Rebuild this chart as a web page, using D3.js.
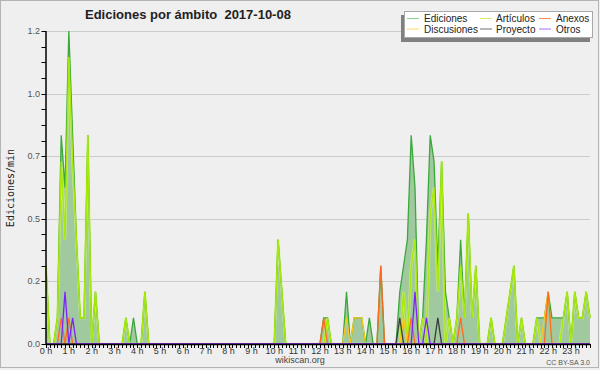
<!DOCTYPE html>
<html><head><meta charset="utf-8">
<script src="https://cdn.jsdelivr.net/npm/d3@7"></script>
<style>body{margin:0;background:#efefef}svg{display:block}</style>
</head><body><svg id="c" width="600" height="370"></svg>
<script>
const titleText = "Ediciones por ámbito  2017-10-08";
const hourLabels = ["0 h","1 h","2 h","3 h","4 h","5 h","6 h","7 h","8 h","9 h","10 h","11 h",
  "12 h","13 h","14 h","15 h","16 h","17 h","18 h","19 h","20 h","21 h","22 h","23 h"];
const yTickValues = [0, 0.24, 0.48, 0.72, 0.96, 1.2];
const legendLabels = ["Ediciones","Artículos","Anexos","Discusiones","Proyecto","Otros"];

// edits per minute, 10-minute bins (144 bins, 12 per row = 2 hours)
const ediciones = [
 0.3,0,0,0.1,0.8,0.6,1.2,0.8,0.4,0.1,0.1,0.8,
 0,0.2,0,0,0,0,0,0,0,0.1,0,0.1,
 0,0,0.2,0,0,0,0,0,0,0,0,0,
 0,0,0,0,0,0,0,0,0,0,0,0,
 0,0,0,0,0,0,0,0,0,0,0,0,
 0,0.4,0.2,0,0,0,0,0,0,0,0,0,
 0,0.1,0.1,0,0,0,0,0.2,0,0.1,0.1,0.1,
 0,0.1,0,0,0.3,0,0,0,0,0.2,0.3,0.4,
 0.8,0.6,0,0.1,0.4,0.8,0.7,0.3,0.7,0.2,0.1,0,
 0.1,0.4,0.1,0.5,0.1,0.3,0,0,0,0.1,0,0,
 0,0.1,0.2,0.3,0,0.1,0,0,0,0.1,0.1,0.1,
 0.2,0.1,0.1,0.1,0.1,0.2,0,0.2,0.1,0.1,0.2,0.1];
const articulos = [
 0.3,0,0,0.1,0.7,0.4,1.1,0.7,0.4,0.1,0.1,0.8,
 0,0.2,0,0,0,0,0,0,0,0.1,0,0,
 0,0,0.2,0,0,0,0,0,0,0,0,0,
 0,0,0,0,0,0,0,0,0,0,0,0,
 0,0,0,0,0,0,0,0,0,0,0,0,
 0,0.4,0.2,0,0,0,0,0,0,0,0,0,
 0,0,0.1,0,0,0,0,0,0,0,0,0,
 0,0,0,0,0,0,0,0,0,0,0.2,0,
 0.3,0.4,0,0.1,0,0.5,0.6,0.2,0.7,0,0.1,0,
 0.1,0.3,0.1,0.5,0.1,0.3,0,0,0,0.1,0,0,
 0,0.1,0.2,0.3,0,0.1,0,0,0,0.1,0,0,
 0,0,0,0,0.1,0.2,0,0.2,0.1,0.1,0.2,0.1];
const anexos = [
 0,0,0,0,0.1,0,0.1,0,0,0,0,0,
 0,0,0,0,0,0,0,0,0,0,0,0,
 0,0,0,0,0,0,0,0,0,0,0,0,
 0,0,0,0,0,0,0,0,0,0,0,0,
 0,0,0,0,0,0,0,0,0,0,0,0,
 0,0,0,0,0,0,0,0,0,0,0,0,
 0,0.1,0,0,0,0,0,0,0,0,0,0,
 0,0,0,0,0.3,0,0,0,0,0,0,0,
 0.1,0,0,0,0,0,0,0,0,0,0,0,
 0,0.1,0,0,0,0,0,0,0,0,0,0,
 0,0,0,0,0,0,0,0,0,0,0,0,
 0.2,0,0,0,0,0,0,0,0,0,0,0];
const discusiones = [
 0,0,0,0,0,0,0,0,0,0,0,0,
 0,0,0,0,0,0,0,0,0,0,0,0,
 0,0,0,0,0,0,0,0,0,0,0,0,
 0,0,0,0,0,0,0,0,0,0,0,0,
 0,0,0,0,0,0,0,0,0,0,0,0,
 0,0,0,0,0,0,0,0,0,0,0,0,
 0,0,0,0,0,0,0,0.1,0,0.1,0.1,0.1,
 0,0,0,0,0,0,0,0,0,0,0.1,0,
 0,0,0,0,0,0,0,0,0,0,0,0,
 0,0,0,0,0,0,0,0,0,0,0,0,
 0,0,0,0,0,0,0,0,0,0,0,0.1,
 0.2,0,0,0,0,0,0,0,0,0,0,0];
const proyecto = [
 0,0,0,0,0,0,0,0,0,0,0,0,
 0,0,0,0,0,0,0,0,0,0,0,0,
 0,0,0,0,0,0,0,0,0,0,0,0,
 0,0,0,0,0,0,0,0,0,0,0,0,
 0,0,0,0,0,0,0,0,0,0,0,0,
 0,0,0,0,0,0,0,0,0,0,0,0,
 0,0,0,0,0,0,0,0,0,0,0,0,
 0,0,0,0,0,0,0,0,0,0.1,0,0,
 0,0,0,0,0,0,0,0.1,0,0,0,0,
 0,0,0,0,0,0,0,0,0,0,0,0,
 0,0,0,0,0,0,0,0,0,0,0,0,
 0,0,0,0,0,0,0,0,0,0,0,0];
const otros = [
 0,0,0,0,0,0.2,0,0.1,0,0,0,0,
 0,0,0,0,0,0,0,0,0,0,0,0,
 0,0,0,0,0,0,0,0,0,0,0,0,
 0,0,0,0,0,0,0,0,0,0,0,0,
 0,0,0,0,0,0,0,0,0,0,0,0,
 0,0,0,0,0,0,0,0,0,0,0,0,
 0,0,0,0,0,0,0,0,0,0,0,0,
 0,0,0,0,0,0,0,0,0,0,0,0,
 0,0.2,0,0,0.1,0,0,0,0,0,0,0,
 0,0,0,0,0,0,0,0,0,0,0,0,
 0,0,0,0,0,0,0,0,0,0,0,0,
 0,0,0,0,0,0,0,0,0,0,0,0];

const colors = {Ediciones:"#3aa83a", "Artículos":"#a8e80a", Anexos:"#ff6a1f",
  Discusiones:"#ffc61a", Proyecto:"#3c3c3c", Otros:"#7d22ff"};
const legendColors = {Ediciones:"#8fd08f", "Artículos":"#d0f060", Anexos:"#ff8a5a",
  Discusiones:"#ffd860", Proyecto:"#707070", Otros:"#a070ff"};
const seriesList = [
  {name:"Ediciones", data:ediciones},
  {name:"Artículos", data:articulos},
  {name:"Discusiones", data:discusiones},
  {name:"Anexos", data:anexos},
  {name:"Proyecto", data:proyecto},
  {name:"Otros", data:otros}];

const svg = d3.select("#c");
const FONT = "'Liberation Sans', Arial, sans-serif";
svg.append("rect").attr("x",0.5).attr("y",0.5).attr("width",598).attr("height",367)
  .attr("fill","#efefef").attr("stroke","#b4b4b4");

const x = d3.scaleLinear().domain([0,143]).range([46,590]);
const y = d3.scaleLinear().domain([0,1.2]).range([344,31]);

// grid
svg.append("g").selectAll("line").data(yTickValues.filter(v=>v>0)).join("line")
  .attr("x1",46).attr("x2",590).attr("y1",d=>Math.round(y(d))+0.5).attr("y2",d=>Math.round(y(d))+0.5)
  .attr("stroke","#cccccc").attr("stroke-width",1);

// area + lines
const area = d3.area().x((d,i)=>x(i)).y0(y(0)).y1(d=>y(d));
const line = d3.line().x((d,i)=>x(i)).y(d=>y(d));
svg.append("path").datum(ediciones).attr("d",area).attr("fill","#a0c9a0");
// soft halo under the article line
svg.append("path").datum(articulos).attr("d",line).attr("fill","none")
  .attr("stroke","#d8f590").attr("stroke-width",2.6).attr("opacity",0.7);
seriesList.forEach(s=>{
  svg.append("path").datum(s.data).attr("d",line).attr("fill","none")
    .attr("stroke",colors[s.name]).attr("stroke-width", s.name==="Artículos"?1.5:1.3)
    .attr("stroke-linejoin","miter");
});

// axes
const ax = svg.append("g");
ax.append("line").attr("x1",46).attr("x2",590).attr("y1",344.5).attr("y2",344.5).attr("stroke","#000").attr("stroke-width",1.5);
ax.append("line").attr("x1",46).attr("x2",46).attr("y1",31).attr("y2",345).attr("stroke","#000").attr("stroke-width",1.5);
ax.selectAll(".xt").data(d3.range(0,144)).join("line").attr("class","xt")
  .attr("x1",d=>Math.round(x(d))+0.5).attr("x2",d=>Math.round(x(d))+0.5)
  .attr("y1",344).attr("y2",348).attr("stroke","#000");
ax.selectAll(".xl").data(hourLabels).join("text").attr("class","xl")
  .attr("x",(d,i)=>x(i*6)).attr("y",354).attr("text-anchor","middle")
  .attr("font-family",FONT).attr("font-size",9).attr("fill","#333").text(d=>d);
const minor = d3.range(0,21).map(i=>i*0.06);
ax.selectAll(".ym").data(minor).join("line").attr("class","ym")
  .attr("x1",41.5).attr("x2",46).attr("y1",d=>Math.round(y(d))+0.5).attr("y2",d=>Math.round(y(d))+0.5)
  .attr("stroke","#000");
ax.selectAll(".yl").data(yTickValues).join("text").attr("class","yl")
  .attr("x",40).attr("y",d=>y(d)+3).attr("text-anchor","end")
  .attr("font-family",FONT).attr("font-size",9).attr("fill","#555").text(d=>d3.format(".1f")(d));

// title
svg.append("text").attr("x",85).attr("y",18.5).attr("font-family",FONT).attr("font-weight","bold")
  .attr("font-size",13).attr("fill","#222").style("white-space","pre").text(titleText);
// y label
svg.append("text").attr("transform","translate(13.5,188) rotate(-90)").attr("text-anchor","middle")
  .attr("font-family","'DejaVu Sans Mono', monospace").attr("font-size",10).attr("fill","#222").text("Ediciones/min");
// footer
svg.append("text").attr("x",300).attr("y",363).attr("text-anchor","middle").attr("font-family",FONT)
  .attr("font-size",9).attr("fill","#444").text("wikiscan.org");
svg.append("text").attr("x",590).attr("y",365).attr("text-anchor","end").attr("font-family",FONT)
  .attr("font-size",7).attr("fill","#555").text("CC BY-SA 3.0");

// legend
const lg = svg.append("g");
lg.append("rect").attr("x",401).attr("y",15).attr("width",189).attr("height",27).attr("fill","#808080");
lg.append("rect").attr("x",404.5).attr("y",11.5).attr("width",188).attr("height",26).attr("fill","#fff").attr("stroke","#a8a8a8");
const colX = [407,480,539], txtX=[424,496,556], rowY=[18.5,29];
legendLabels.forEach((n,i)=>{
  const c=i%3, r=Math.floor(i/3);
  lg.append("line").attr("x1",colX[c]).attr("x2",colX[c]+12).attr("y1",rowY[r]).attr("y2",rowY[r])
    .attr("stroke",legendColors[n]).attr("stroke-width",1);
  lg.append("text").attr("x",txtX[c]).attr("y",rowY[r]+3.5).attr("font-family",FONT).attr("font-size",10)
    .attr("fill","#222").text(n);
});
</script></body></html>
